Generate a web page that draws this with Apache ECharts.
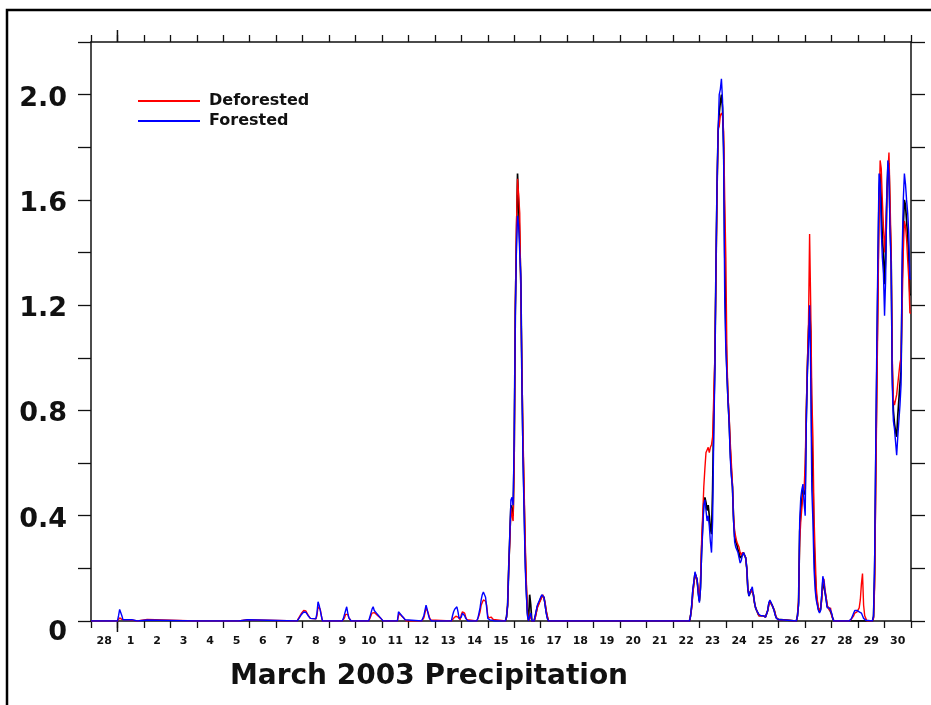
<!DOCTYPE html>
<html><head><meta charset="utf-8">
<script src="https://cdn.jsdelivr.net/npm/echarts@6/dist/echarts.min.js"></script>
<style>html,body{margin:0;padding:0;background:#fff}#c{width:931px;height:705px}</style>
</head><body><div id="c"></div>
<script>
// Day labels (Feb 28 .. Mar 30), one per day; x values are hours since Feb 28 00:00
const dayLabels = ['28','1','2','3','4','5','6','7','8','9','10','11','12','13','14','15','16','17','18','19','20','21','22','23','24','25','26','27','28','29','30'];
const chartTitle = 'March 2003 Precipitation';
const yLabelValues = [0, 0.4, 0.8, 1.2, 1.6, 2.0];

const hours = [
  0, 24,25,26,27,28,29,37,38, 42,43,51,52, 95,96,97, 134,135,142,143,
  187,188,189,190,191,192,193,194,195,196,197,198,199,200,204,205,206,207,208,209,210,
  228,229,230,231,232,233,234,235,236,
  252,253,254,255,256,257,258,259,260,261,262,263,264,265,
  278,279,280,281,282,283,284,285,286,
  300,301,302,303,304,305,306,307,308,309,
  327,328,329,330,331,332,333,334,335,336,337,338,339,340,341,342,
  350,351,352,353,354,355,356,357,358,359,360,361,362,363,364,365,366,
  376,377,378,379,380,381,382,383,384,385,386,387,388,389,390,391,392,393,394,395,396,397,398,399,400,
  402,403,404,405,406,407,408,409,410,411,412,413,414,415,
  429,430,431,
  543,544,545,546,547,548,549,550,551,552,553,554,555,556,557,558,559,560,561,562,
  563,564,565,566,567,568,569,570,571,572,573,574,575,576,577,578,579,580,581,582,
  583,584,585,586,587,588,589,590,591,592,593,594,595,596,597,598,599,600,601,602,
  603,604,605,606,607,608,609,610,611,612,613,614,615,616,617,618,619,620,621,622,
  623,624,625,626,627,
  640,641,642,643,644,645,646,647,648,649,650,651,652,653,654,655,656,657,658,659,
  660,661,662,663,664,665,666,667,668,669,670,671,672,673,674,
  688,689,690,691,692,693,694,695,696,697,698,699,700,701,702,703,704,
  709,710,711,712,713,714,715,716,717,718,719,720,721,722,723,724,725,726,727,728,
  729,730,731,732,733,734,735,736,737,738,739,740,741,742,743,744
];

const forested = [
  0, 0,.02,.044,.042,.02,.005,.005,0, 0,.004,.004,0, 0,.002,0, 0,.005,.005,0,
  0,.006,.012,.018,.025,.03,.034,.035,.033,.026,.02,.014,.01,.008,.008,.03,.073,.06,.04,.02,0,
  0,.01,.025,.04,.054,.03,.012,.005,0,
  0,.015,.03,.045,.054,.04,.035,.03,.025,.02,.015,.01,.006,0,
  0,.035,.03,.025,.02,.015,.01,.005,0,
  0,.005,.02,.04,.06,.045,.025,.01,.004,0,
  0,.02,.035,.045,.05,.054,.035,.01,.005,.015,.03,.028,.02,.01,.003,0,
  0,.01,.03,.05,.08,.1,.11,.117,.09,.05,.01,.005,.004,.004,.003,.002,0,
  0,.015,.06,.2,.33,.46,.47,.44,.7,1.16,1.42,1.54,1.5,1.4,1.31,.9,.6,.4,.2,.1,.02,0,.02,.03,0,
  0,.02,.04,.06,.07,.08,.09,.1,.105,.09,.06,.03,.01,0,
  0,.004,0,
  0,.02,.06,.12,.15,.187,.17,.16,.1,.07,.12,.25,.34,.44,.46,.42,.38,.4,.36,.3,
  .26,.38,.7,.93,1.34,1.66,1.86,2.0,2.02,2.06,1.98,1.77,1.22,1.03,.93,.83,.75,.62,.55,.51,
  .38,.3,.28,.28,.26,.24,.22,.23,.25,.26,.25,.24,.2,.12,.095,.11,.12,.13,.1,.07,
  .05,.04,.035,.025,.02,.02,.02,.02,.02,.015,.02,.04,.07,.08,.07,.065,.05,.035,.02,.01,
  .005,.005,.005,.005,0,
  0,.02,.06,.38,.47,.5,.52,.45,.4,.75,.95,1.05,1.2,.95,.5,.38,.2,.12,.08,.06,
  .04,.03,.04,.1,.17,.15,.11,.08,.05,.05,.05,.05,.03,.01,0,
  0,.005,.01,.02,.03,.04,.035,.04,.04,.035,.04,.03,.02,.01,.005,.003,0,
  0,.02,.23,.66,1.06,1.4,1.7,1.66,1.49,1.38,1.32,1.16,1.3,1.6,1.75,1.7,1.47,1.35,.9,.76,
  .73,.68,.63,.7,.76,.82,.9,1.4,1.6,1.7,1.66,1.6,1.55,1.47,1.3,1.3
];

const deforested = [
  0, 0,.005,.012,.01,.006,.004,.004,0, 0,.006,.006,0, 0,.007,0, 0,.005,.005,0,
  0,.008,.015,.022,.03,.036,.04,.042,.038,.03,.022,.015,.01,.008,.008,.02,.054,.05,.045,.02,0,
  0,.005,.012,.025,.03,.025,.012,.005,0,
  0,.01,.02,.03,.035,.032,.03,.025,.02,.017,.013,.01,.006,0,
  0,.02,.028,.022,.018,.012,.01,.006,0,
  0,.003,.012,.03,.05,.04,.03,.015,.004,0,
  0,.005,.01,.015,.018,.02,.015,.01,.005,.025,.035,.038,.03,.015,.005,0,
  0,.005,.02,.035,.06,.07,.08,.083,.075,.06,.02,.012,.015,.015,.012,.006,0,
  0,.015,.06,.2,.3,.43,.4,.38,.6,1.2,1.5,1.68,1.62,1.55,1.25,.95,.7,.5,.3,.15,.04,0,.01,.02,0,
  0,.01,.03,.05,.06,.07,.08,.09,.1,.095,.07,.04,.02,0,
  0,.005,0,
  0,.02,.05,.1,.14,.18,.17,.15,.12,.08,.15,.3,.4,.51,.58,.64,.65,.66,.64,.66,
  .67,.7,.85,1.0,1.3,1.62,1.87,1.88,1.92,1.93,1.92,1.86,1.6,1.38,1.0,.85,.78,.68,.6,.52,
  .4,.34,.32,.3,.29,.28,.26,.25,.26,.26,.25,.24,.2,.12,.1,.1,.12,.12,.1,.07,
  .05,.04,.03,.02,.02,.02,.02,.02,.02,.015,.02,.04,.06,.07,.07,.06,.05,.04,.025,.012,
  .005,.005,.005,.005,0,
  0,.02,.08,.3,.38,.43,.48,.5,.6,.8,.98,1.13,1.47,1.2,.86,.7,.4,.26,.13,.08,
  .05,.04,.05,.08,.14,.16,.12,.09,.06,.05,.04,.05,.02,.01,0,
  0,.005,.008,.015,.02,.03,.03,.035,.04,.05,.08,.14,.18,.06,.02,.01,0,
  0,.01,.13,.5,.85,1.19,1.55,1.75,1.72,1.6,1.5,1.4,1.49,1.6,1.7,1.78,1.6,1.4,1.0,.84,
  .82,.84,.86,.9,.94,.98,1.0,1.2,1.4,1.52,1.5,1.45,1.37,1.3,1.17,1.17
];

// third (black, unlabelled) trace, visible under the coloured ones
const obsHours = [
  376,377,378,379,380,381,382,383,384,385,386,387,388,389,390,391,392,393,394,395,396,397,398,399,400,
  402,403,404,405,406,407,408,409,410,411,412,413,414,415,
  543,544,545,546,547,548,549,550,551,552,553,554,555,556,557,558,559,560,561,562,
  563,564,565,566,567,568,569,570,571,572,573,574,575,576,577,578,579,580,581,582,
  583,584,585,586,587,588,589,590,591,592,593,594,595,596,597,598,599,600,601,602,
  603,604,605,606,607,608,609,610,611,612,613,614,615,616,617,618,619,620,621,622,
  623,624,625,626,627,
  640,641,642,643,644,645,646,647,648,649,650,651,652,653,654,655,656,657,658,659,
  660,661,662,663,664,665,666,667,668,669,670,671,672,673,674,
  709,710,711,712,713,714,715,716,717,718,719,720,721,722,723,724,725,726,727,728,
  729,730,731,732,733,734,735,736,737,738,739,740,741,742,743,744
];
const observed = [
  0,.015,.06,.2,.32,.44,.44,.4,.65,1.18,1.45,1.7,1.58,1.45,1.28,.92,.65,.45,.25,.12,.03,0,.1,.06,0,
  0,.015,.035,.055,.065,.075,.085,.095,.1,.09,.065,.035,.015,0,
  0,.02,.055,.11,.145,.18,.17,.15,.11,.075,.13,.27,.37,.45,.47,.45,.42,.44,.4,.35,
  .33,.5,.78,.97,1.32,1.64,1.86,1.93,1.97,2.0,1.95,1.8,1.4,1.1,.95,.84,.76,.65,.57,.51,
  .39,.32,.3,.29,.27,.26,.24,.24,.25,.26,.25,.24,.2,.12,.095,.1,.12,.12,.1,.07,
  .05,.04,.03,.02,.02,.02,.02,.02,.02,.015,.02,.04,.065,.075,.07,.06,.05,.04,.022,.011,
  .005,.005,.005,.005,0,
  0,.02,.07,.34,.42,.46,.5,.48,.5,.78,.96,1.1,1.19,1.1,.7,.55,.3,.18,.1,.07,
  .045,.035,.045,.09,.15,.15,.11,.085,.055,.05,.045,.05,.025,.01,0,
  0,.015,.18,.58,.95,1.3,1.62,1.7,1.6,1.45,1.4,1.28,1.38,1.6,1.72,1.74,1.52,1.38,.95,.8,
  .75,.72,.7,.78,.84,.9,.95,1.3,1.5,1.6,1.58,1.52,1.46,1.38,1.24,1.24
];

if (hours.length !== forested.length || hours.length !== deforested.length || obsHours.length !== observed.length) {
  throw new Error('length mismatch ' + hours.length + ' ' + forested.length + ' ' + deforested.length + ' ' + obsHours.length + ' ' + observed.length);
}

const FONT = 'DejaVu Sans';
const chart = echarts.init(document.getElementById('c'), null, {renderer: 'canvas'});
const grid = {left: 91, right: 20, top: 42, bottom: 84};
const axisLine = {show: true, onZero: false, lineStyle: {color: '#111', width: 1.5}};
const tickStyle = {color: '#111', width: 1.3};

const option = {
  animation: false,
  backgroundColor: '#fff',
  title: {
    text: chartTitle, left: 424, top: 658, textAlign: 'center',
    textStyle: {fontFamily: FONT, fontWeight: 'bold', fontSize: 28, color: '#111'}
  },
  legend: {
    orient: 'vertical', left: 133, top: 88, itemWidth: 62, itemHeight: 2, itemGap: 4,
    icon: 'rect',
    data: ['Deforested', 'Forested'],
    textStyle: {fontFamily: FONT, fontWeight: 'bold', fontSize: 16, lineHeight: 14, color: '#111', padding: [0,0,0,4]}
  },
  grid: grid,
  xAxis: [
    {
      type: 'category', data: dayLabels, boundaryGap: true, position: 'bottom',
      axisLine: axisLine,
      axisTick: {show: true, interval: 0, length: 7, lineStyle: tickStyle},
      axisLabel: {interval: 0, margin: 15, fontFamily: FONT, fontWeight: 'bold', fontSize: 11, color: '#111'},
      splitLine: {show: false}
    },
    {
      type: 'value', min: 0, max: 744, interval: 24, position: 'top',
      axisLine: axisLine,
      axisTick: {show: true, length: 7, lineStyle: tickStyle},
      axisLabel: {show: false},
      splitLine: {show: false}
    }
  ],
  yAxis: [
    {
      type: 'value', min: 0, max: 2.2, interval: 0.2, position: 'left',
      axisLine: axisLine,
      axisTick: {show: true, length: 13, lineStyle: tickStyle},
      axisLabel: {
        margin: 24, color: '#111',
        formatter: function (v) {
          const match = yLabelValues.find(t => Math.abs(t - v) < 1e-6);
          if (match === undefined) return '';
          return match === 0 ? '{z|0}' : '{n|' + match.toFixed(1) + '}';
        },
        rich: {
          n: {fontFamily: FONT, fontWeight: 'bold', fontSize: 27, color: '#111', padding: [8, 0, 0, 0]},
          z: {fontFamily: FONT, fontWeight: 'bold', fontSize: 27, color: '#111', padding: [24, 0, 0, 0]}
        }
      },
      splitLine: {show: false}
    },
    {
      type: 'value', min: 0, max: 2.2, interval: 0.2, position: 'right',
      axisLine: axisLine,
      axisTick: {show: true, length: 14, lineStyle: tickStyle},
      axisLabel: {show: false},
      splitLine: {show: false}
    }
  ],
  series: [
    {
      name: 'Observed', type: 'line', xAxisIndex: 1, yAxisIndex: 0, symbol: 'none',
      data: obsHours.map((h, i) => [h, observed[i]]),
      lineStyle: {color: '#000', width: 1.7}, itemStyle: {color: '#000'}, z: 2
    },
    {
      name: 'Deforested', type: 'line', xAxisIndex: 1, yAxisIndex: 0, symbol: 'none',
      data: hours.map((h, i) => [h, deforested[i]]),
      lineStyle: {color: '#ff0000', width: 1.4}, itemStyle: {color: '#ff0000'}, z: 3
    },
    {
      name: 'Forested', type: 'line', xAxisIndex: 1, yAxisIndex: 0, symbol: 'none',
      data: hours.map((h, i) => [h, forested[i]]),
      lineStyle: {color: '#0000ff', width: 1.4}, itemStyle: {color: '#0000ff'}, z: 4
    }
  ]
};
chart.setOption(option);

// frame around the page and the longer month-boundary tick (Mar 1 00:00 = hour 24)
const xm = chart.convertToPixel({xAxisIndex: 1}, 24);
const yTop = chart.convertToPixel({yAxisIndex: 0}, 2.2);
const yBot = chart.convertToPixel({yAxisIndex: 0}, 0);
chart.setOption({
  graphic: [
    {type: 'rect', shape: {x: 7, y: 10, width: 950, height: 720}, style: {fill: 'none', stroke: '#000', lineWidth: 2.5}, silent: true},
    {type: 'line', shape: {x1: xm, y1: yBot, x2: xm, y2: yBot + 11}, style: {stroke: '#111', lineWidth: 1.5}, silent: true},
    {type: 'line', shape: {x1: xm, y1: yTop, x2: xm, y2: yTop - 12}, style: {stroke: '#111', lineWidth: 1.5}, silent: true}
  ]
});
</script>
</body></html>
